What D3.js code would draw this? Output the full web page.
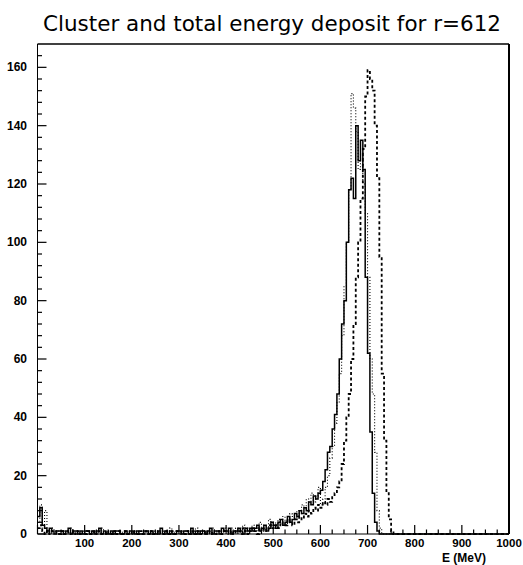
<!DOCTYPE html>
<html>
<head>
<meta charset="utf-8">
<script src="https://cdn.jsdelivr.net/npm/d3@7"></script>
<style>
  html, body { margin: 0; padding: 0; background: #fff; }
  svg { display: block; }
</style>
</head>
<body>
<div id="js-d3"></div>
<script>
(function() {
  var width = 523, height = 565;

  // 5 MeV bins, 0..1000 MeV (200 bins each)
  var binWidth = 5;

  var clusterSolid = [
    6,9,3,2,1,2,1,0,1,1, 1,0,1,2,0,1,1,0,1,0, 1,1,0,1,0,1,2,0,1,0, 0,1,0,1,1,0,0,1,0,1,
    1,0,1,0,0,1,1,0,1,0, 0,1,2,0,1,0,1,0,0,1, 1,0,1,1,0,2,0,1,0,1, 1,0,1,2,0,1,1,0,2,1,
    1,2,0,1,1,2,1,0,2,1, 2,1,2,3,1,2,3,1,2,4, 3,2,4,5,3,4,6,4,5,7, 6,8,7,9,8,11,10,13,12,14,
    15,18,22,28,30,36,41,48,60,72, 80,100,118,122,115,140,128,135,125,88, 62,35,14,4,1,0,0,0,0,0,
    0,0,0,0,0,0,0,0,0,0, 0,0,0,0,0,0,0,0,0,0, 0,0,0,0,0,0,0,0,0,0, 0,0,0,0,0,0,0,0,0,0,
    0,0,0,0,0,0,0,0,0,0
  ];

  var totalDashed = [
    2,3,1,0,1,0,1,1,0,0, 1,0,0,1,0,1,0,1,0,0, 0,1,0,0,1,0,1,0,0,1, 0,0,1,0,1,0,0,1,0,0,
    1,0,0,1,0,0,1,0,1,0, 0,1,0,0,1,0,0,1,0,1, 1,0,0,1,0,1,0,0,1,0, 0,1,0,1,0,0,1,1,0,1,
    1,0,1,0,1,1,0,2,1,0, 1,2,1,0,2,1,2,1,3,2, 2,3,2,4,3,3,5,4,3,5, 4,6,5,7,6,8,7,9,8,10,
    9,11,10,12,11,13,14,16,18,24, 32,40,48,60,72,88,100,115,132,150, 159,156,152,140,122,95,55,32,14,5,
    1,0,0,0,0,0,0,0,0,0, 0,0,0,0,0,0,0,0,0,0, 0,0,0,0,0,0,0,0,0,0, 0,0,0,0,0,0,0,0,0,0,
    0,0,0,0,0,0,0,0,0,0
  ];

  var otherDotted = [
    4,10,2,8,1,0,2,1,0,1, 0,1,1,0,2,0,1,0,0,1, 1,0,0,1,1,0,0,2,0,1, 1,0,1,0,0,1,0,1,1,0,
    0,1,0,1,1,0,1,0,0,1, 1,0,1,1,0,1,2,0,1,0, 0,1,1,0,1,0,1,2,0,1, 1,1,0,1,2,0,1,1,0,2,
    1,0,2,1,2,1,0,3,1,2, 1,3,2,2,4,1,3,2,5,3, 4,3,5,4,6,3,5,7,6,5, 8,7,10,9,12,10,14,11,13,16,
    10,12,16,20,26,30,38,45,55,68, 85,100,118,151,146,138,125,130,120,110, 88,60,48,28,8,2,0,0,0,0,
    0,0,0,0,0,0,0,0,0,0, 0,0,0,0,0,0,0,0,0,0, 0,0,0,0,0,0,0,0,0,0, 0,0,0,0,0,0,0,0,0,0,
    0,0,0,0,0,0,0,0,0,0
  ];

  var xTickLabels = [100, 200, 300, 400, 500, 600, 700, 800, 900, 1000];
  var yTickLabels = [0, 20, 40, 60, 80, 100, 120, 140, 160];

  var left = 37.5, right = 509, top = 44, bottom = 534;

  var x = d3.scaleLinear().domain([0, 1000]).range([left, right]);
  var y = d3.scaleLinear().domain([0, 168]).range([bottom, top]);

  var svg = d3.select('#js-d3').append('svg').attr('width', width).attr('height', height);

  svg.append('text').text('Cluster and total energy deposit for r=612')
    .attr('x', 272).attr('y', 31)
    .attr('text-anchor', 'middle')
    .attr('font-family', 'DejaVu Sans, sans-serif')
    .attr('font-size', 22)
    .attr('textLength', 458)
    .attr('lengthAdjust', 'spacingAndGlyphs')
    .attr('fill', '#000');

  var histLine = d3.line()
    .x(function(d) { return x(d[0]); })
    .y(function(d) { return y(d[1]); })
    .curve(d3.curveStepAfter);

  function toSteps(values) {
    var pts = values.map(function(v, i) { return [i * binWidth, v]; });
    pts.push([values.length * binWidth, values[values.length - 1]]);
    return pts;
  }

  var series = [
    { values: otherDotted, width: 1.1, dash: '1,2' },
    { values: totalDashed, width: 1.8, dash: '3,2.5' },
    { values: clusterSolid, width: 1.5, dash: null }
  ];

  var plot = svg.append('g');
  series.forEach(function(s) {
    plot.append('path')
      .attr('d', histLine(toSteps(s.values)))
      .attr('fill', 'none')
      .attr('stroke', '#000')
      .attr('stroke-width', s.width)
      .attr('stroke-dasharray', s.dash);
  });

  // frame
  svg.append('line').attr('x1', left).attr('x2', right).attr('y1', top).attr('y2', top)
    .attr('stroke', '#000').attr('stroke-width', 1.3);
  svg.append('line').attr('x1', right).attr('x2', right).attr('y1', top).attr('y2', bottom)
    .attr('stroke', '#000').attr('stroke-width', 2);
  svg.append('line').attr('x1', left).attr('x2', left).attr('y1', top).attr('y2', bottom)
    .attr('stroke', '#000').attr('stroke-width', 1);
  svg.append('line').attr('x1', left).attr('x2', right).attr('y1', bottom).attr('y2', bottom)
    .attr('stroke', '#000').attr('stroke-width', 1);

  // x ticks (pointing up inside)
  var xMinor = d3.range(0, 1001, 25);
  svg.append('g').selectAll('line').data(xMinor).enter().append('line')
    .attr('x1', function(d) { return x(d); })
    .attr('x2', function(d) { return x(d); })
    .attr('y1', bottom)
    .attr('y2', function(d) { return bottom - (d % 100 === 0 ? 9 : 4.5); })
    .attr('stroke', '#000').attr('stroke-width', 1.2);

  svg.append('g').selectAll('text').data(xTickLabels).enter().append('text')
    .text(function(d) { return d; })
    .attr('x', function(d) { return x(d); })
    .attr('y', 547)
    .attr('text-anchor', 'middle')
    .attr('font-family', 'Liberation Sans, Arial, sans-serif')
    .attr('font-weight', 'bold')
    .attr('font-size', 11.5);

  // y ticks (pointing right inside)
  var yMinor = d3.range(0, 165, 4);
  svg.append('g').selectAll('line').data(yMinor).enter().append('line')
    .attr('x1', left)
    .attr('x2', function(d) { return left + (d % 20 === 0 ? 9 : 4.5); })
    .attr('y1', function(d) { return y(d); })
    .attr('y2', function(d) { return y(d); })
    .attr('stroke', '#000').attr('stroke-width', 1.2);

  svg.append('g').selectAll('text').data(yTickLabels).enter().append('text')
    .text(function(d) { return d; })
    .attr('x', 27)
    .attr('y', function(d) { return y(d) + 4; })
    .attr('text-anchor', 'end')
    .attr('font-family', 'Liberation Sans, Arial, sans-serif')
    .attr('font-weight', 'bold')
    .attr('font-size', 12);

  svg.append('text').text('E (MeV)')
    .attr('x', 486).attr('y', 562)
    .attr('text-anchor', 'end')
    .attr('font-family', 'Liberation Sans, Arial, sans-serif')
    .attr('font-weight', 'bold')
    .attr('font-size', 12);

}).call(this);
</script>
</body>
</html>
